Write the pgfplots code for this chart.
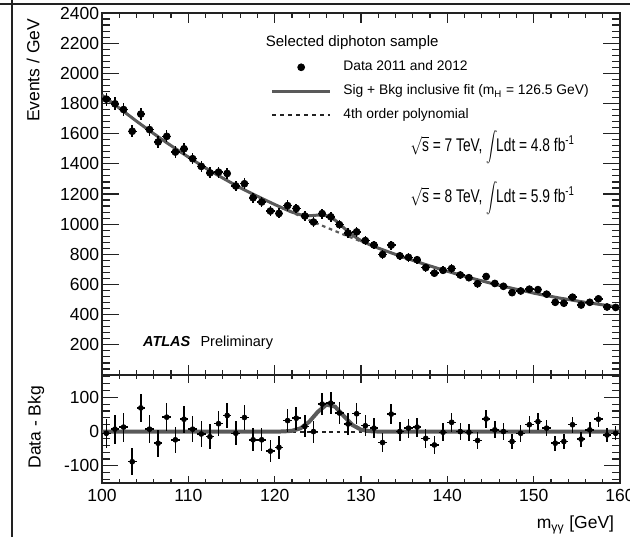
\documentclass[border=0pt]{standalone}
\usepackage{pgfplots}
\pgfplotsset{compat=1.18}
\usepackage{pgfplotstable}
\usepackage{graphicx}
\usepackage{fontspec}
\setmainfont{Liberation Sans}

\definecolor{fitgray}{HTML}{5A5A5A}
\definecolor{axisblack}{HTML}{222222}

% data: bin centre, events/GeV, stat. error, data - bkg
\pgfplotstableread{
m n dn r
100.5 1829 43 -5
101.5 1798 42 7
102.5 1760 42 13
103.5 1616 40 -88
104.5 1730 42 69
105.5 1627 40 7
106.5 1545 39 -34
107.5 1582 40 42
108.5 1478 38 -24
109.5 1500 39 36
110.5 1434 38 7
111.5 1383 37 -7
112.5 1340 37 -15
113.5 1345 37 23
114.5 1336 37 47
115.5 1253 35 -5
116.5 1268 36 41
117.5 1175 34 -24
118.5 1147 34 -24
119.5 1087 33 -57
120.5 1071 33 -46
121.5 1123 34 32
122.5 1104 33 39
123.5 1054 32 15
124.5 1014 32 0
125.5 1070 33 80
126.5 1049 32 83
127.5 997 32 54
128.5 941 31 22
129.5 949 31 52
130.5 891 30 17
131.5 862 29 10
132.5 799 28 -32
133.5 861 29 51
134.5 790 28 0
135.5 780 28 10
136.5 764 28 13
137.5 712 27 -20
138.5 675 26 -39
139.5 694 26 -2
140.5 706 27 27
141.5 663 26 0
142.5 645 25 -2
143.5 605 25 -26
144.5 653 26 37
145.5 607 25 5
146.5 588 24 0
147.5 546 23 -29
148.5 557 24 -5
149.5 569 24 20
150.5 566 24 29
151.5 536 23 10
152.5 482 22 -34
153.5 476 22 -29
154.5 516 23 20
155.5 464 22 -22
156.5 482 22 5
157.5 505 22 36
158.5 451 21 -10
159.5 448 21 -5
}\datatab

% fit curves: background, sig+bkg, signal only
\pgfplotstableread{
m bkg sb sig
100 1855.0 1855.0 0
101 1812.4 1812.4 0
102 1769.4 1769.4 0
103 1726.2 1726.2 0
104 1682.7 1682.7 0
105 1641.0 1641.0 0
106 1600.0 1600.0 0
107 1559.4 1559.4 0
108 1520.6 1520.6 0
109 1482.6 1482.6 0
110 1445.2 1445.2 0
111 1408.5 1408.5 0
112 1372.5 1372.5 0
113 1338.1 1338.1 0
114 1305.4 1305.4 0
115 1273.3 1273.3 0
116 1241.9 1241.9 0
117 1213.1 1213.1 0
118 1185.0 1185.0 0
119 1157.5 1157.5 0
120 1130.6 1130.6 0
121 1104.4 1104.7 0.3
122 1077.7 1079.9 2.2
123 1052.7 1062.2 9.5
124 1027.3 1055.8 28.5
125 1002.5 1060.0 57.5
126 978.3 1056.9 78.6
127 954.7 1027.4 72.7
128 930.7 976.2 45.5
129 908.3 927.6 19.3
130 885.4 890.9 5.5
131 863.2 864.3 1.1
132 841.4 841.4 0
133 820.3 820.3 0
134 799.7 799.7 0
135 779.7 779.7 0
136 760.3 760.3 0
137 741.3 741.3 0
138 722.9 722.9 0
139 705.0 705.0 0
140 687.8 687.8 0
141 671.0 671.0 0
142 654.8 654.8 0
143 639.1 639.1 0
144 624.0 624.0 0
145 609.1 609.1 0
146 595.0 595.0 0
147 581.5 581.5 0
148 568.5 568.5 0
149 556.1 556.1 0
150 543.0 543.0 0
151 531.3 531.3 0
152 521.0 521.0 0
153 510.2 510.2 0
154 500.9 500.9 0
155 491.0 491.0 0
156 481.6 481.6 0
157 473.6 473.6 0
158 465.0 465.0 0
159 456.9 456.9 0
160 449.2 449.2 0
}\fittab

\newcommand\bigint{$\vcenter{\hbox{\scalebox{0.9}{$\displaystyle\int$}}}$}
\newcommand\lumi[2]{\scalebox{0.75}[1]{$\sqrt{\mbox{s}}$ = #1 TeV, \bigint\kern-1pt Ldt = #2 fb\textsuperscript{-1}}}

\pgfplotsset{
  atlas/.style={
    scale only axis, width=310.8pt,
    xmin=100, xmax=160,
    xtick={100,110,...,160}, minor xtick={100,102,...,160},
    tick align=inside, xtick pos=both, ytick pos=both,
    axis line style={line width=0.8pt, axisblack},
    tick style={line width=0.7pt, axisblack},
    /pgf/number format/assume math mode=true,
    /pgf/number format/1000 sep={},
    ticklabel style={font=\fontsize{10.5}{12}\selectfont},
    yticklabel style={inner sep=1.5pt},
    label style={font=\fontsize{10.5}{12}\selectfont},
  },
  datapts/.style={only marks, mark=*, black,
    error bars/.cd, x dir=both, x fixed=0.5, y dir=both, y explicit,
    error mark=none, error bar style={line width=0.9pt, black},
    /pgfplots/.cd},
}

\begin{document}
\begin{tikzpicture}
% upper panel
\begin{axis}[atlas,
  at={(61.2pt,97.2pt)}, anchor=south west, height=217.2pt,
  ymin=0, ymax=2400, ytick={200,400,...,2400}, minor ytick={0,40,...,2400},
  xticklabels={},
  x tick style={/pgfplots/major tick length=6pt, /pgfplots/minor tick length=3pt},
  y tick style={/pgfplots/major tick length=10pt, /pgfplots/minor tick length=4.8pt},
  ylabel={Events / GeV},
  ylabel style={at={(axis description cs:-0.133,1)}, anchor=east},
  legend cell align=left,
  legend style={draw=none, fill=none, inner sep=0pt,
    at={(axis description cs:0.325,0.874)}, anchor=north west,
    font=\fontsize{8.3}{10}\selectfont, row sep=4.4pt,
    nodes={inner sep=1pt, text height=6.2pt, text depth=1.8pt},
    /tikz/every odd column/.append style={column sep=6pt}},
]
\addlegendimage{legend image code/.code={\fill[black] (17.4pt,0pt) circle (2.1pt);}}
\addlegendentry{Data 2011 and 2012}
\addlegendimage{legend image code/.code={\draw[fitgray, line width=1.8pt] (0pt,0pt) -- (34.8pt,0pt);}}
\addlegendentry{Sig + Bkg inclusive fit (m\textsubscript{H} = 126.5 GeV)}
\addlegendimage{legend image code/.code={\draw[axisblack, line width=1.2pt, dash pattern=on 2.4pt off 2.4pt] (0pt,0pt) -- (34.8pt,0pt);}}
\addlegendentry{4th order polynomial}

\addplot[fitgray, line width=1.3pt, dash pattern=on 2.2pt off 2.2pt, forget plot] table[x=m, y=bkg] {\fittab};
\addplot[fitgray, line width=1.8pt, forget plot] table[x=m, y=sb] {\fittab};
\addplot[mark size=2.1pt, forget plot, datapts] table[x=m, y=n, y error=dn] {\datatab};

\node[anchor=west, font=\fontsize{9}{11}\selectfont] at (axis description cs:0.305,0.917) {Selected diphoton sample};
\node[anchor=east, font=\fontsize{11}{13}\selectfont, inner sep=0pt] at (axis description cs:0.913,0.630) {\lumi{7}{4.8}};
\node[anchor=east, font=\fontsize{11}{13}\selectfont, inner sep=0pt] at (axis description cs:0.913,0.489) {\lumi{8}{5.9}};
\node[anchor=west, font=\fontsize{8.7}{10}\selectfont] at (axis description cs:0.068,0.088)
  {\textbf{\textit{ATLAS}}\hspace{0.7em}Preliminary};
\end{axis}

% lower panel
\begin{axis}[atlas,
  at={(61.2pt,32.4pt)}, anchor=south west, height=64.8pt,
  ymin=-150, ymax=165, ytick={-100,0,100}, minor ytick={-140,-120,...,160},
  x tick style={/pgfplots/major tick length=4.5pt, /pgfplots/minor tick length=2.5pt},
  y tick style={/pgfplots/major tick length=9.6pt, /pgfplots/minor tick length=4.8pt},
  xlabel={m\textsubscript{γγ} [GeV]},
  xlabel style={at={(axis description cs:1,-0.39)}, anchor=east},
  ylabel={Data - Bkg},
  ylabel style={at={(axis description cs:-0.127,0.954)}, anchor=east},
]
\addplot[axisblack, line width=1.2pt, dash pattern=on 2.2pt off 2.2pt] coordinates {(100,0) (160,0)};
\addplot[fitgray, line width=2.4pt] table[x=m, y=sig] {\fittab};
\addplot[mark size=1.5pt, datapts] table[x=m, y=r, y error=dn] {\datatab};
\end{axis}

% frame of the screenshot
\draw[line width=0.9pt, axisblack] (0pt,319.8pt) -- (378pt,319.8pt);
\draw[line width=0.9pt, axisblack] (7.2pt,0pt) -- (7.2pt,322.2pt);
\pgfresetboundingbox
\useasboundingbox (0pt,0pt) rectangle (378pt,322.2pt);
\end{tikzpicture}
\end{document}
